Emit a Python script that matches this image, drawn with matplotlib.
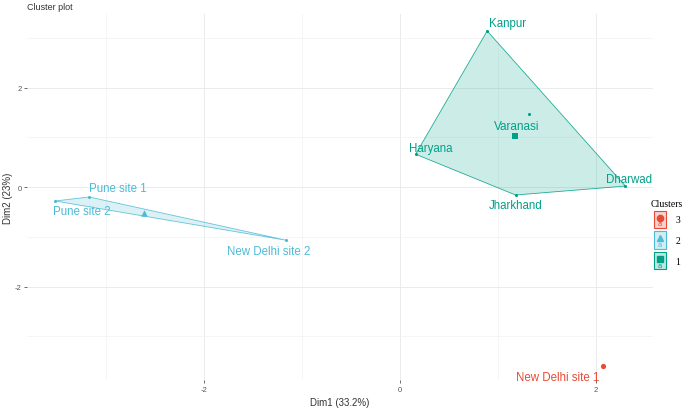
import numpy as np
import matplotlib
matplotlib.use("Agg")
import matplotlib.pyplot as plt
from matplotlib.patches import Polygon, Rectangle
from matplotlib.lines import Line2D
from matplotlib.text import Text
from matplotlib.legend_handler import HandlerBase

plt.rcParams["axes.unicode_minus"] = False

names = ["Kanpur", "Varanasi", "Haryana", "Dharwad", "Jharkhand",
         "Pune site 1", "Pune site 2", "New Delhi site 2", "New Delhi site 1"]
dim1 = [0.89, 1.32, 0.16, 2.30, 1.18, -3.17, -3.52, -1.16, 2.07]
dim2 = [3.14, 1.47, 0.66, 0.02, -0.16, -0.20, -0.28, -1.07, -3.60]
cluster = [1, 1, 1, 1, 1, 2, 2, 2, 3]

colors = {1: "#00A087", 2: "#4DBBD5", 3: "#E64B35"}
markers = {1: "s", 2: "^", 3: "o"}

# label offsets in pixels (dx, dy)
offsets = [(20, 8), (-13, -12), (15, 6), (4, 7), (0, -10),
           (28, 9), (27, -10), (-18, -11), (-45, -11)]


def hull(pts):
    pts = sorted(set(map(tuple, pts)))
    if len(pts) < 3:
        return pts

    def cross(o, a, b):
        return (a[0] - o[0]) * (b[1] - o[1]) - (a[1] - o[1]) * (b[0] - o[0])
    lower, upper = [], []
    for p in pts:
        while len(lower) >= 2 and cross(lower[-2], lower[-1], p) <= 0:
            lower.pop()
        lower.append(p)
    for p in reversed(pts):
        while len(upper) >= 2 and cross(upper[-2], upper[-1], p) <= 0:
            upper.pop()
        upper.append(p)
    return lower[:-1] + upper[:-1]


fig = plt.figure(figsize=(6.85, 4.1), dpi=100)
ax = fig.add_axes([27 / 685, 29 / 410, 626 / 685, 366 / 410])
ax.set_xlim(-3.806, 2.582)
ax.set_ylim(-3.88, 3.48)

x = np.array(dim1)
y = np.array(dim2)
cl = np.array(cluster)

for c in [1, 2, 3]:
    m = cl == c
    pts = np.column_stack([x[m], y[m]])
    if m.sum() >= 3:
        h = hull(pts)
        ax.add_patch(Polygon(h, closed=True, facecolor=colors[c], alpha=0.2,
                             edgecolor="none", zorder=2))
        ax.add_patch(Polygon(h, closed=True, facecolor="none",
                             edgecolor=colors[c], lw=0.6, alpha=0.85, zorder=2))
    ax.scatter(x[m], y[m], s=5, color=colors[c], marker="o", zorder=3, linewidths=0)
    ax.scatter([x[m].mean()], [y[m].mean()], s=22 if c != 3 else 14,
               color=colors[c], marker=markers[c], zorder=3, linewidths=0)

for i, nm in enumerate(names):
    dx, dy = offsets[i]
    ax.annotate(nm, (x[i], y[i]), xytext=(dx * 0.72, dy * 0.72),
                textcoords="offset points", ha="center", va="center",
                fontsize=8.5 if nm == "Varanasi" else 8.3,
                family="Liberation Sans", color=colors[cluster[i]], zorder=4)

ax.set_xticks([-2, 0, 2])
ax.set_xticks([-3, -1, 1], minor=True)
ax.set_yticks([-2, 0, 2])
ax.set_yticks([-3, -1, 1, 3], minor=True)
ax.grid(True, which="major", color="#EBEBEB", lw=0.7, zorder=0)
ax.grid(True, which="minor", color="#F2F2F2", lw=0.5, zorder=0)
ax.tick_params(which="major", length=2, width=0.6, color="#555555",
               labelsize=5.5, labelcolor="#555555", pad=2)
ax.tick_params(which="minor", length=0)
for s in ax.spines.values():
    s.set_visible(False)
for t in ax.get_xticklabels() + ax.get_yticklabels():
    t.set_family("Liberation Sans")

ax.set_xlabel("Dim1 (33.2%)", fontsize=7, family="Liberation Sans",
              color="#333333", labelpad=3)
ax.set_ylabel("Dim2 (23%)", fontsize=7, family="Liberation Sans",
              color="#333333", va="center")
ax.yaxis.set_label_coords(-19 / 626, 0.5)
fig.text(27 / 685, 1 - 8 / 410, "Cluster plot", fontsize=6.5,
         family="Liberation Sans", color="#333333", va="center", ha="left")


class LegendKey:
    def __init__(self, color, marker):
        self.color = color
        self.marker = marker


class KeyHandler(HandlerBase):
    def create_artists(self, legend, orig_handle, xdescent, ydescent,
                       width, height, fontsize, trans):
        col = orig_handle.color
        rect = Rectangle((-xdescent, -ydescent), width, height,
                         facecolor=matplotlib.colors.to_rgba(col, 0.25),
                         edgecolor=col, lw=0.8, transform=trans)
        cx = -xdescent + width / 2
        cy = -ydescent + height / 2
        mk = Line2D([cx], [cy + height * 0.1], marker=orig_handle.marker,
                    color=col, markersize=4.5, linestyle="none", transform=trans)
        tx = Text(cx - width * 0.05, -ydescent + height * 0.1, "a", color=col,
                  fontsize=5, ha="center", va="bottom", transform=trans)
        return [rect, mk, tx]


handles = [LegendKey(colors[c], markers[c]) for c in [3, 2, 1]]
leg = fig.legend(handles, ["3", "2", "1"], handler_map={LegendKey: KeyHandler()},
                 loc="center left", bbox_to_anchor=(646 / 685, 1 - 235 / 410),
                 frameon=False, title="Clusters", handlelength=1.3,
                 handleheight=2.4, labelspacing=0.32, handletextpad=0.9,
                 borderpad=0, prop={"family": "Liberation Serif", "size": 7},
                 title_fontproperties={"family": "Liberation Serif", "size": 7})

fig.savefig("out.png", dpi=100)
